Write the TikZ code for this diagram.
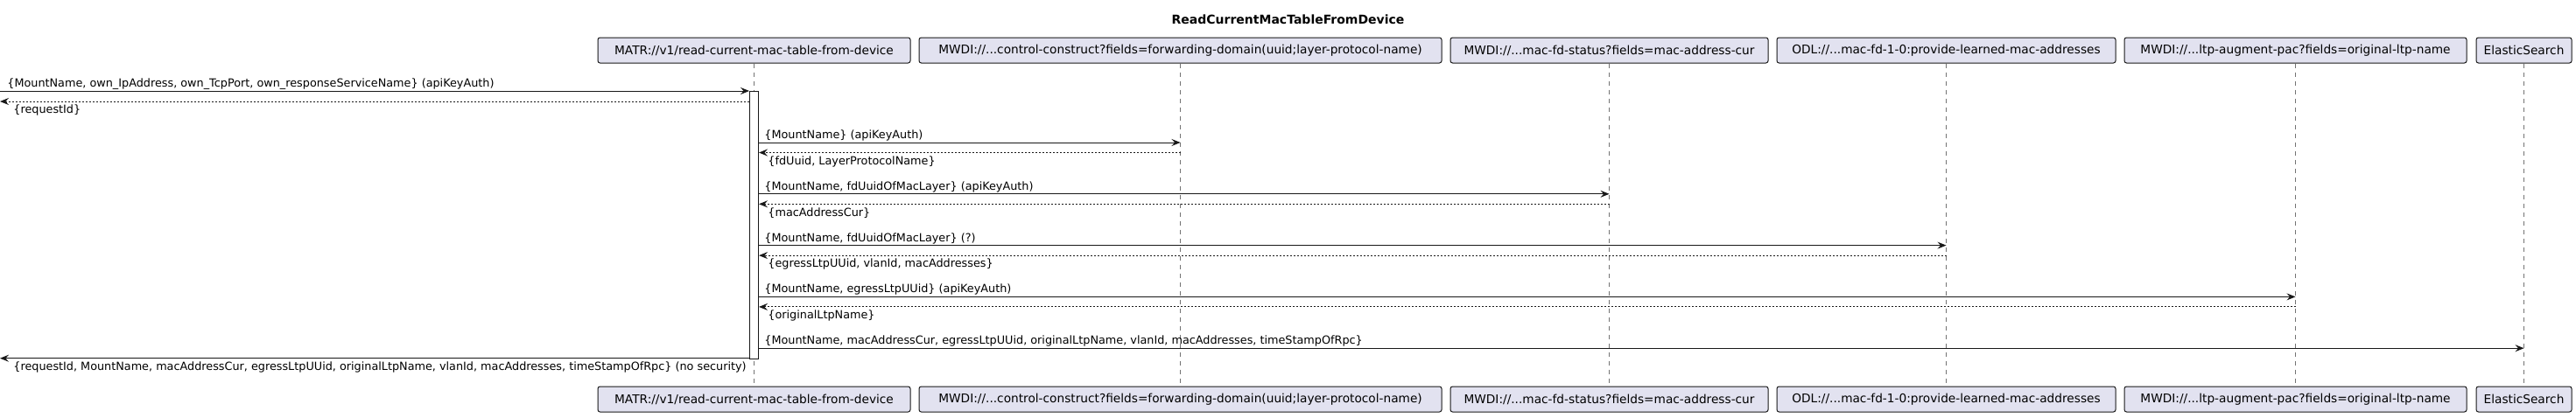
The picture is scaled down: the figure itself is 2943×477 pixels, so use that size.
\documentclass[tikz,border=0pt]{standalone}
\usepackage{fontspec}
\setmainfont{DejaVu Sans}
\usetikzlibrary{arrows.meta}
\definecolor{partfill}{HTML}{E2E2F0}
\definecolor{partline}{HTML}{181818}
\begin{document}
\begin{tikzpicture}[x=0.5pt, y=-0.5pt, >={Stealth[length=5pt, width=4pt, inset=1.8pt]},
  part/.style={draw=partline, fill=partfill, rounded corners=1.25pt, line width=0.5pt,
    minimum height=14.5pt, inner sep=0pt, font=\fontsize{6.85}{8}\selectfont},
  lifeline/.style={draw=black!55, line width=0.4pt, dash pattern=on 2.5pt off 2.5pt},
  call/.style={->, draw=partline, line width=0.5pt},
  reply/.style={->, draw=partline, line width=0.5pt, dash pattern=on 1pt off 1pt},
  msg/.style={anchor=west, inner sep=0pt, font=\fontsize{6.4}{8}\selectfont}]

\useasboundingbox (0,0) rectangle (2943,477);

\node[font=\bfseries\fontsize{7}{8}\selectfont] (title) at (1471.5,22.5) {ReadCurrentMacTableFromDevice};

% participants, top and bottom
\foreach \n/\x/\w/\t in {matr/861.5/178.5pt/{MATR://v1/read-current-mac-table-from-device},
    cc/1348.5/298.5pt/{MWDI://...control-construct?fields=forwarding-domain(uuid;layer-protocol-name)},
    fd/1838.5/181.5pt/{MWDI://...mac-fd-status?fields=mac-address-cur},
    odl/2223.5/193.5pt/{ODL://...mac-fd-1-0:provide-learned-mac-addresses},
    ltp/2622.5/195.5pt/{MWDI://...ltp-augment-pac?fields=original-ltp-name},
    es/2883.5/54.5pt/{ElasticSearch}}
{
    \node[part, minimum width=\w] (\n) at (\x,57.5) {\t};
    \node[part, minimum width=\w] (\n-b) at (\x,456.5) {\t};
    \draw[lifeline] (\n.south) -- (\n-b.north);
}

\node[draw=partline, fill=white, line width=0.5pt, minimum width=5pt, minimum height=153pt,
  inner sep=0pt] (act) at (861.5,257) {};

% request from the left and its answer
\coordinate (in) at (0,104);
\coordinate (out) at (0,116);
\draw[call] (in) -- (act.west |- in);
\draw[reply] (act.west |- out) -- (out);
\node[msg] (l-in) at (8,96) {\{MountName, own\_IpAddress, own\_TcpPort, own\_responseServiceName\} (apiKeyAuth)};
\node[msg] (l-out) at (15,126) {\{requestId\}};

% calls with replies
\foreach \i/\x/\y/\lc/\lr in {1/1348.5/163/{\{MountName\} (apiKeyAuth)}/{\{fdUuid, LayerProtocolName\}},
    2/1838.5/221.8/{\{MountName, fdUuidOfMacLayer\} (apiKeyAuth)}/{\{macAddressCur\}},
    3/2223.5/280.6/{\{MountName, fdUuidOfMacLayer\} (?)}/{\{egressLtpUUid, vlanId, macAddresses\}},
    4/2622.5/339.4/{\{MountName, egressLtpUUid\} (apiKeyAuth)}/{\{originalLtpName\}}}
{
    \coordinate (c\i) at (\x,\y);
    \coordinate (r\i) at (\x,\y+11.5);
    \draw[call] (act.east |- c\i) -- (c\i);
    \draw[reply] (r\i) -- (act.east |- r\i);
    \node[msg] (lc\i) at (873,\y-8) {\lc};
    \node[msg] (lr\i) at (877,\y+21.5) {\lr};
}

% write to ElasticSearch
\coordinate (c5) at (2883.5,398.2);
\draw[call] (act.east |- c5) -- (c5);
\node[msg] (lc5) at (873,390.2) {\{MountName, macAddressCur, egressLtpUUid, originalLtpName, vlanId, macAddresses, timeStampOfRpc\}};

% final answer
\coordinate (fin) at (0,409.7);
\draw[call] (act.west |- fin) -- (fin);
\node[msg] (l-fin) at (15,419.7) {\{requestId, MountName, macAddressCur, egressLtpUUid, originalLtpName, vlanId, macAddresses, timeStampOfRpc\} (no security)};
\end{tikzpicture}
\end{document}
